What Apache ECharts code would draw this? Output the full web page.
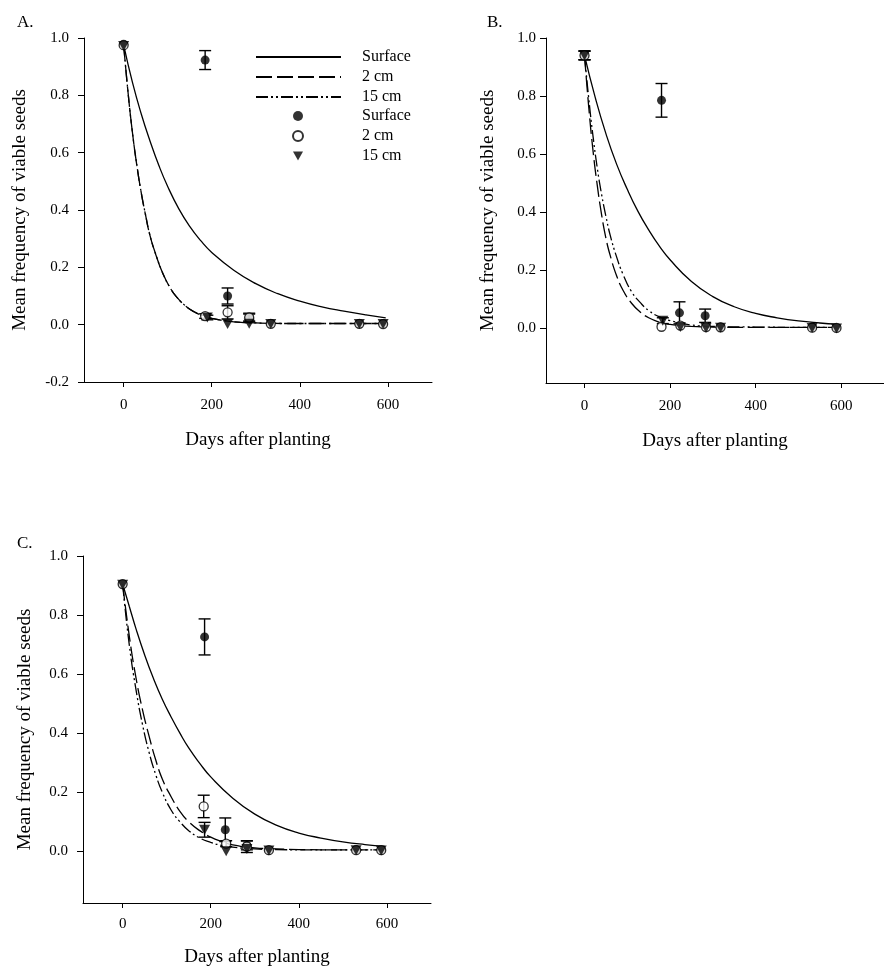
<!DOCTYPE html>
<html>
<head>
<meta charset="UTF-8">
<title>Viable seeds</title>
<style>
  html, body { margin: 0; padding: 0; background: #fff; }
  #chart { width: 884px; height: 971px; }
</style>
</head>
<body>
<div id="chart"></div>
<script src="https://cdn.jsdelivr.net/npm/echarts@6/dist/echarts.min.js"></script>
<script>
// observed means: [day, mean, error]
const aSurfacePts = [[0,0.978,0],[185,0.923,0.033],[236,0.100,0.028],[285,0.025,0.012],[334,0.004,0],[535,0.003,0],[589,0.003,0]];
const a2cmPts     = [[0,0.975,0],[185,0.030,0.008],[236,0.043,0.023],[285,0.025,0.015],[334,0.003,0],[535,0.003,0],[589,0.002,0]];
const a15cmPts    = [[0,0.972,0],[190,0.025,0.008],[236,0.002,0],[285,0.003,0],[334,0.002,0],[535,0.002,0],[589,0.002,0]];

const bSurfacePts = [[0,0.940,0.015],[180,0.785,0.058],[222,0.052,0.038],[282,0.042,0.023],[318,0.003,0],[532,0.002,0],[589,0.000,0]];
const b2cmPts     = [[0,0.940,0.015],[180,0.004,0],[224,0.008,0],[284,0.003,0],[318,0.002,0],[532,0.001,0],[589,0.000,0]];
const b15cmPts    = [[0,0.940,0.015],[183,0.025,0.010],[224,0.003,0],[284,0.000,0],[318,0.001,0],[532,0.000,0],[589,-0.002,0]];

const cSurfacePts = [[0,0.905,0],[186,0.726,0.061],[233,0.073,0.040],[282,0.020,0.015],[332,0.004,0],[530,0.005,0],[587,0.004,0]];
const c2cmPts     = [[0,0.905,0],[184,0.152,0.038],[235,0.026,0.010],[282,0.016,0.020],[332,0.004,0],[530,0.004,0],[587,0.004,0]];
const c15cmPts    = [[0,0.903,0],[186,0.073,0.025],[235,0.000,0],[282,0.008,0],[332,0.003,0],[530,0.004,0],[587,0.003,0]];

// fitted curves: [day, value]
const aSurfaceFit = [[0,0.976],[20,0.845],[40,0.735],[60,0.64],[80,0.555],[100,0.482],[125,0.405],[150,0.343],[175,0.293],[200,0.252],[250,0.19],[300,0.143],[350,0.108],[400,0.082],[450,0.062],[500,0.047],[550,0.034],[595,0.024]];
const a2cmFit     = [[0,0.976],[10,0.81],[20,0.67],[30,0.555],[40,0.46],[50,0.38],[60,0.31],[75,0.235],[90,0.175],[105,0.13],[120,0.097],[140,0.066],[160,0.045],[180,0.031],[200,0.022],[250,0.010],[300,0.006],[400,0.004],[500,0.004],[595,0.004]];
const a15cmFit    = [[0,0.976],[10,0.81],[20,0.67],[30,0.556],[40,0.46],[50,0.381],[60,0.31],[75,0.236],[90,0.175],[105,0.13],[120,0.097],[140,0.066],[160,0.045],[180,0.031],[200,0.022],[250,0.010],[300,0.006],[400,0.004],[500,0.004],[595,0.004]];

const bSurfaceFit = [[0,0.94],[25,0.795],[50,0.67],[75,0.565],[100,0.478],[125,0.402],[150,0.338],[175,0.282],[200,0.235],[250,0.16],[300,0.108],[350,0.073],[400,0.05],[450,0.035],[500,0.024],[550,0.017],[590,0.013]];
const b2cmFit     = [[0,0.94],[10,0.76],[20,0.61],[30,0.49],[40,0.39],[50,0.31],[60,0.25],[75,0.18],[90,0.13],[110,0.085],[130,0.055],[150,0.035],[175,0.02],[200,0.012],[250,0.005],[300,0.003],[400,0.002],[500,0.002],[590,0.002]];
const b15cmFit    = [[0,0.94],[10,0.79],[20,0.66],[30,0.55],[40,0.46],[50,0.385],[60,0.32],[75,0.245],[90,0.185],[110,0.125],[130,0.088],[150,0.06],[175,0.038],[200,0.025],[250,0.010],[300,0.005],[400,0.003],[500,0.002],[590,0.002]];

const cSurfaceFit = [[0,0.905],[15,0.83],[30,0.755],[50,0.665],[70,0.585],[90,0.515],[110,0.455],[130,0.40],[150,0.35],[175,0.298],[200,0.252],[250,0.18],[300,0.126],[350,0.088],[400,0.062],[450,0.045],[500,0.032],[550,0.023],[595,0.017]];
const c2cmFit     = [[0,0.905],[15,0.73],[30,0.59],[45,0.48],[60,0.39],[75,0.31],[90,0.245],[110,0.185],[130,0.135],[150,0.10],[175,0.07],[200,0.048],[225,0.033],[250,0.022],[300,0.012],[350,0.008],[400,0.006],[500,0.005],[595,0.005]];
const c15cmFit    = [[0,0.905],[15,0.70],[30,0.55],[45,0.43],[60,0.335],[75,0.26],[90,0.20],[110,0.14],[130,0.10],[150,0.07],[175,0.045],[200,0.03],[225,0.02],[250,0.014],[300,0.008],[350,0.006],[400,0.005],[500,0.005],[595,0.005]];

const xTicks = [0, 200, 400, 600];
const yTicksA = [-0.2, 0, 0.2, 0.4, 0.6, 0.8, 1.0];
const yTicksBC = [0, 0.2, 0.4, 0.6, 0.8, 1.0];

const FONT = 'Liberation Serif';
const chart = echarts.init(document.getElementById('chart'));

const panels = [
  { pts: [aSurfacePts, a2cmPts, a15cmPts], fits: [aSurfaceFit, a2cmFit, a15cmFit],
    grid: { left: 84, top: 38, width: 348, height: 344 }, ymin: -0.2, yTicks: yTicksA,
    yGap: 54, yMargin: 15, xGap: 49, xMargin: 16 },
  { pts: [bSurfacePts, b2cmPts, b15cmPts], fits: [bSurfaceFit, b2cmFit, b15cmFit],
    grid: { left: 546, top: 38, width: 348, height: 345 }, ymin: -0.19, yTicks: yTicksBC,
    yGap: 48, yMargin: 10, xGap: 49, xMargin: 16 },
  { pts: [cSurfacePts, c2cmPts, c15cmPts], fits: [cSurfaceFit, c2cmFit, c15cmFit],
    grid: { left: 83, top: 556, width: 348, height: 347 }, ymin: -0.175, yTicks: yTicksBC,
    yGap: 48, yMargin: 15, xGap: 45, xMargin: 14 }
];

const names = ['Surface', '2 cm', '15 cm'];
const dashes = ['solid', [16, 5], [12, 3, 2, 3, 2, 3]];

let grids = [], xAxes = [], yAxes = [], series = [];

panels.forEach((p, i) => {
  grids.push(p.grid);
  xAxes.push({
    type: 'value', gridIndex: i, min: -90, max: 700,
    name: 'Days after planting', nameLocation: 'middle', nameGap: p.xGap,
    nameTextStyle: { fontFamily: FONT, fontSize: 19, color: '#000' },
    axisLine: { onZero: false, lineStyle: { color: '#000', width: 1 } },
    axisTick: { customValues: xTicks, length: 5, lineStyle: { color: '#000' } },
    axisLabel: { customValues: xTicks, margin: p.xMargin, fontFamily: FONT, fontSize: 15, color: '#000' },
    splitLine: { show: false }
  });
  yAxes.push({
    type: 'value', gridIndex: i, min: p.ymin, max: 1.0,
    name: 'Mean frequency of viable seeds', nameLocation: 'middle', nameGap: p.yGap,
    nameTextStyle: { fontFamily: FONT, fontSize: 19, color: '#000' },
    axisLine: { show: true, onZero: false, lineStyle: { color: '#000', width: 1 } },
    axisTick: { show: true, customValues: p.yTicks, length: 6, lineStyle: { color: '#000' } },
    axisLabel: { customValues: p.yTicks, margin: p.yMargin, fontFamily: FONT, fontSize: 15, color: '#000',
                 formatter: v => v.toFixed(1) },
    splitLine: { show: false }
  });

  p.fits.forEach((fit, k) => {
    series.push({
      name: names[k], type: 'line', xAxisIndex: i, yAxisIndex: i,
      data: fit, symbol: 'none', showSymbol: false, smooth: 0.5,
      itemStyle: { color: '#000' },
      lineStyle: { color: '#000', width: 1.3, type: dashes[k] }, z: 2, silent: true
    });
  });

  let errs = [];
  p.pts.forEach(s => s.forEach(d => { if (d[2] > 0) errs.push(d); }));
  series.push({
    type: 'custom', xAxisIndex: i, yAxisIndex: i, data: errs, z: 3, silent: true,
    renderItem: function (params, api) {
      const x = api.value(0), y = api.value(1), e = api.value(2);
      const t = api.coord([x, y + e]), b = api.coord([x, y - e]);
      const hw = 6, st = { stroke: '#000', lineWidth: 1.4 };
      return { type: 'group', children: [
        { type: 'line', shape: { x1: t[0], y1: t[1], x2: b[0], y2: b[1] }, style: st },
        { type: 'line', shape: { x1: t[0] - hw, y1: t[1], x2: t[0] + hw, y2: t[1] }, style: st },
        { type: 'line', shape: { x1: b[0] - hw, y1: b[1], x2: b[0] + hw, y2: b[1] }, style: st }
      ] };
    },
    encode: { x: 0, y: 1 }
  });

  const marks = [
    { symbol: 'circle', size: 9, rot: 0, style: { color: '#000' } },
    { symbol: 'circle', size: 9, rot: 0, style: { color: '#fff', borderColor: '#000', borderWidth: 1.3 } },
    { symbol: 'triangle', size: [11, 10], rot: 180, style: { color: '#000' } }
  ];
  p.pts.forEach((s, k) => {
    series.push({
      name: names[k] + ' obs', type: 'scatter', xAxisIndex: i, yAxisIndex: i,
      data: s.map(d => [d[0], d[1]]), symbol: marks[k].symbol, symbolSize: marks[k].size,
      symbolRotate: marks[k].rot, itemStyle: marks[k].style, z: 4 + k, silent: true
    });
  });
});

const option = {
  backgroundColor: '#fff',
  animation: false,
  textStyle: { fontFamily: FONT, color: '#000' },
  title: [
    { text: 'A.', left: 12, top: 9, textStyle: { fontFamily: FONT, fontSize: 17, fontWeight: 'normal', color: '#000' } },
    { text: 'B.', left: 482, top: 9, textStyle: { fontFamily: FONT, fontSize: 17, fontWeight: 'normal', color: '#000' } },
    { text: 'C.', left: 12, top: 530, textStyle: { fontFamily: FONT, fontSize: 17, fontWeight: 'normal', color: '#000' } }
  ],
  legend: [
    { data: names, orient: 'vertical', left: 255, top: 49, padding: 0, itemWidth: 85, itemHeight: 14, itemGap: 4,
      selectedMode: false, itemStyle: { opacity: 0 },
      textStyle: { fontFamily: FONT, fontSize: 16, color: '#000', padding: [0, 0, 0, 16] } },
    { data: [
        { name: 'Surface obs' },
        { name: '2 cm obs' },
        { name: '15 cm obs', icon: 'path://M0,0 L10,0 L5,9 Z' }
      ],
      orient: 'vertical', left: 292, top: 108, padding: 0, itemWidth: 10, itemHeight: 10, itemGap: 4,
      selectedMode: false, formatter: n => n.replace(' obs', ''),
      textStyle: { fontFamily: FONT, fontSize: 16, color: '#000', padding: [0, 0, 0, 54] } }
  ],
  grid: grids,
  xAxis: xAxes,
  yAxis: yAxes,
  series: series
};

chart.setOption(option);
</script>
</body>
</html>
